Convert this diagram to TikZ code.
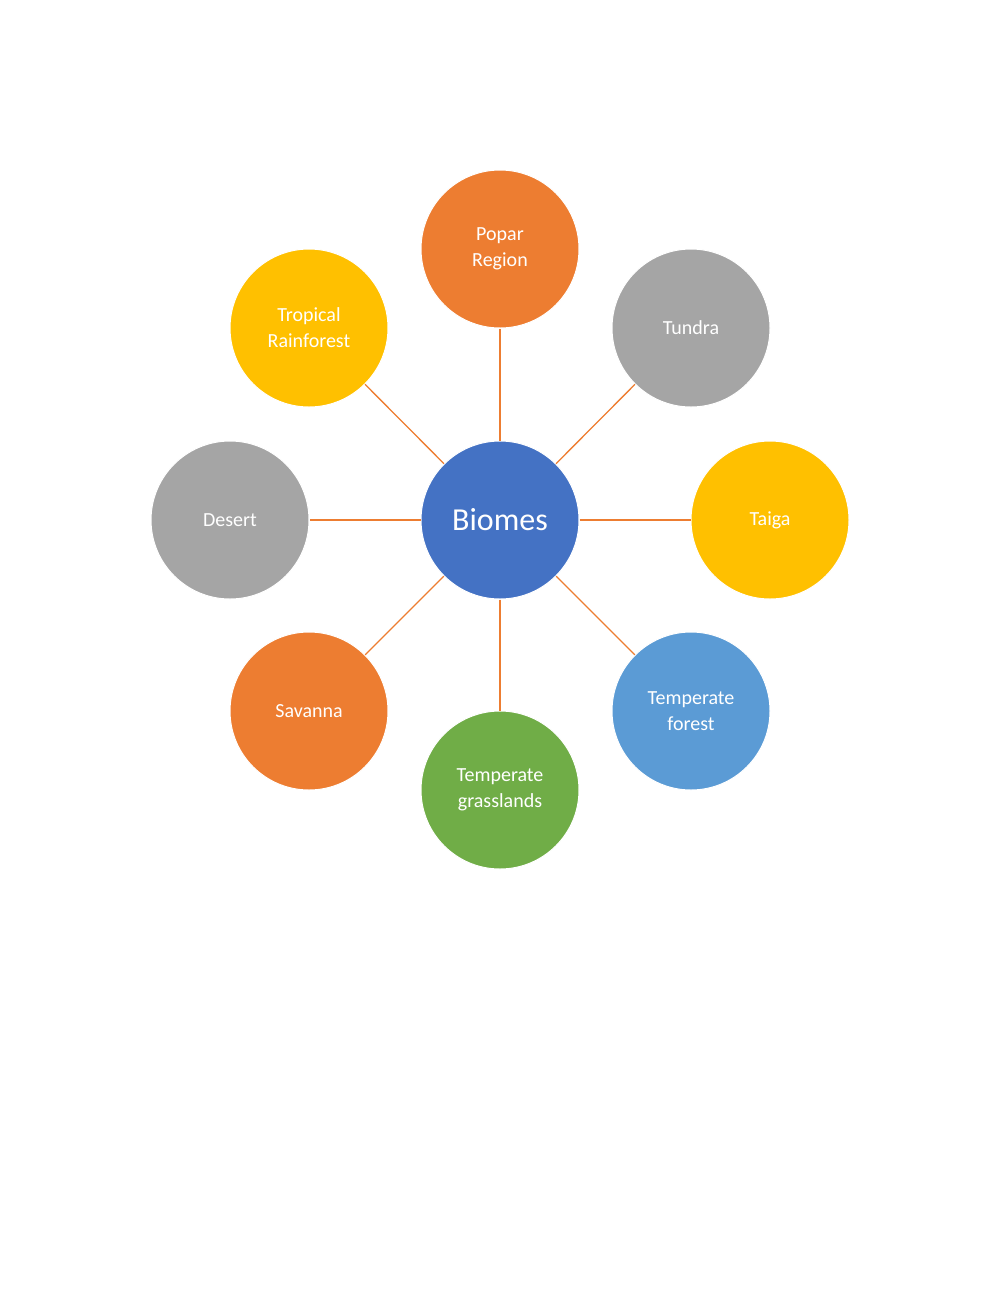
\documentclass[tikz,border=0pt]{standalone}
\usepackage{fontspec}
\setmainfont{Carlito}
\definecolor{corange}{HTML}{ED7D31}
\definecolor{cgray}{HTML}{A5A5A5}
\definecolor{cgold}{HTML}{FFC000}
\definecolor{cblue}{HTML}{4472C4}
\definecolor{clblue}{HTML}{5B9BD5}
\definecolor{cgreen}{HTML}{70AD47}
\begin{document}
\begin{tikzpicture}[x=1pt,y=-1pt,
  bub/.style={circle,minimum size=158pt,inner sep=0pt,text=white,align=center,font=\fontsize{20}{26}\selectfont,draw=white,line width=1pt},
  link/.style={draw=corange,line width=1.3pt}]
\useasboundingbox (0,0) rectangle (1000,1291);
\node[bub,fill=cblue,font=\fontsize{32}{38}\selectfont] (c) at (500,520) {Biomes};
\node[bub,fill=corange] (p) at (500,249) {Popar\\Region};
\node[bub,fill=cgray] (tu) at (691,328) {Tundra};
\node[bub,fill=cgold] (ta) at (770,520) {Taiga};
\node[bub,fill=clblue] (tf) at (691,711) {Temperate\\forest};
\node[bub,fill=cgreen] (tg) at (500,790) {Temperate\\grasslands};
\node[bub,fill=corange] (s) at (309,711) {Savanna};
\node[bub,fill=cgray] (d) at (230,520) {Desert};
\node[bub,fill=cgold] (tr) at (309,328) {Tropical\\Rainforest};
\foreach \n in {p,tu,ta,tf,tg,s,d,tr} \draw[link] (c) -- (\n);
\end{tikzpicture}
\end{document}
